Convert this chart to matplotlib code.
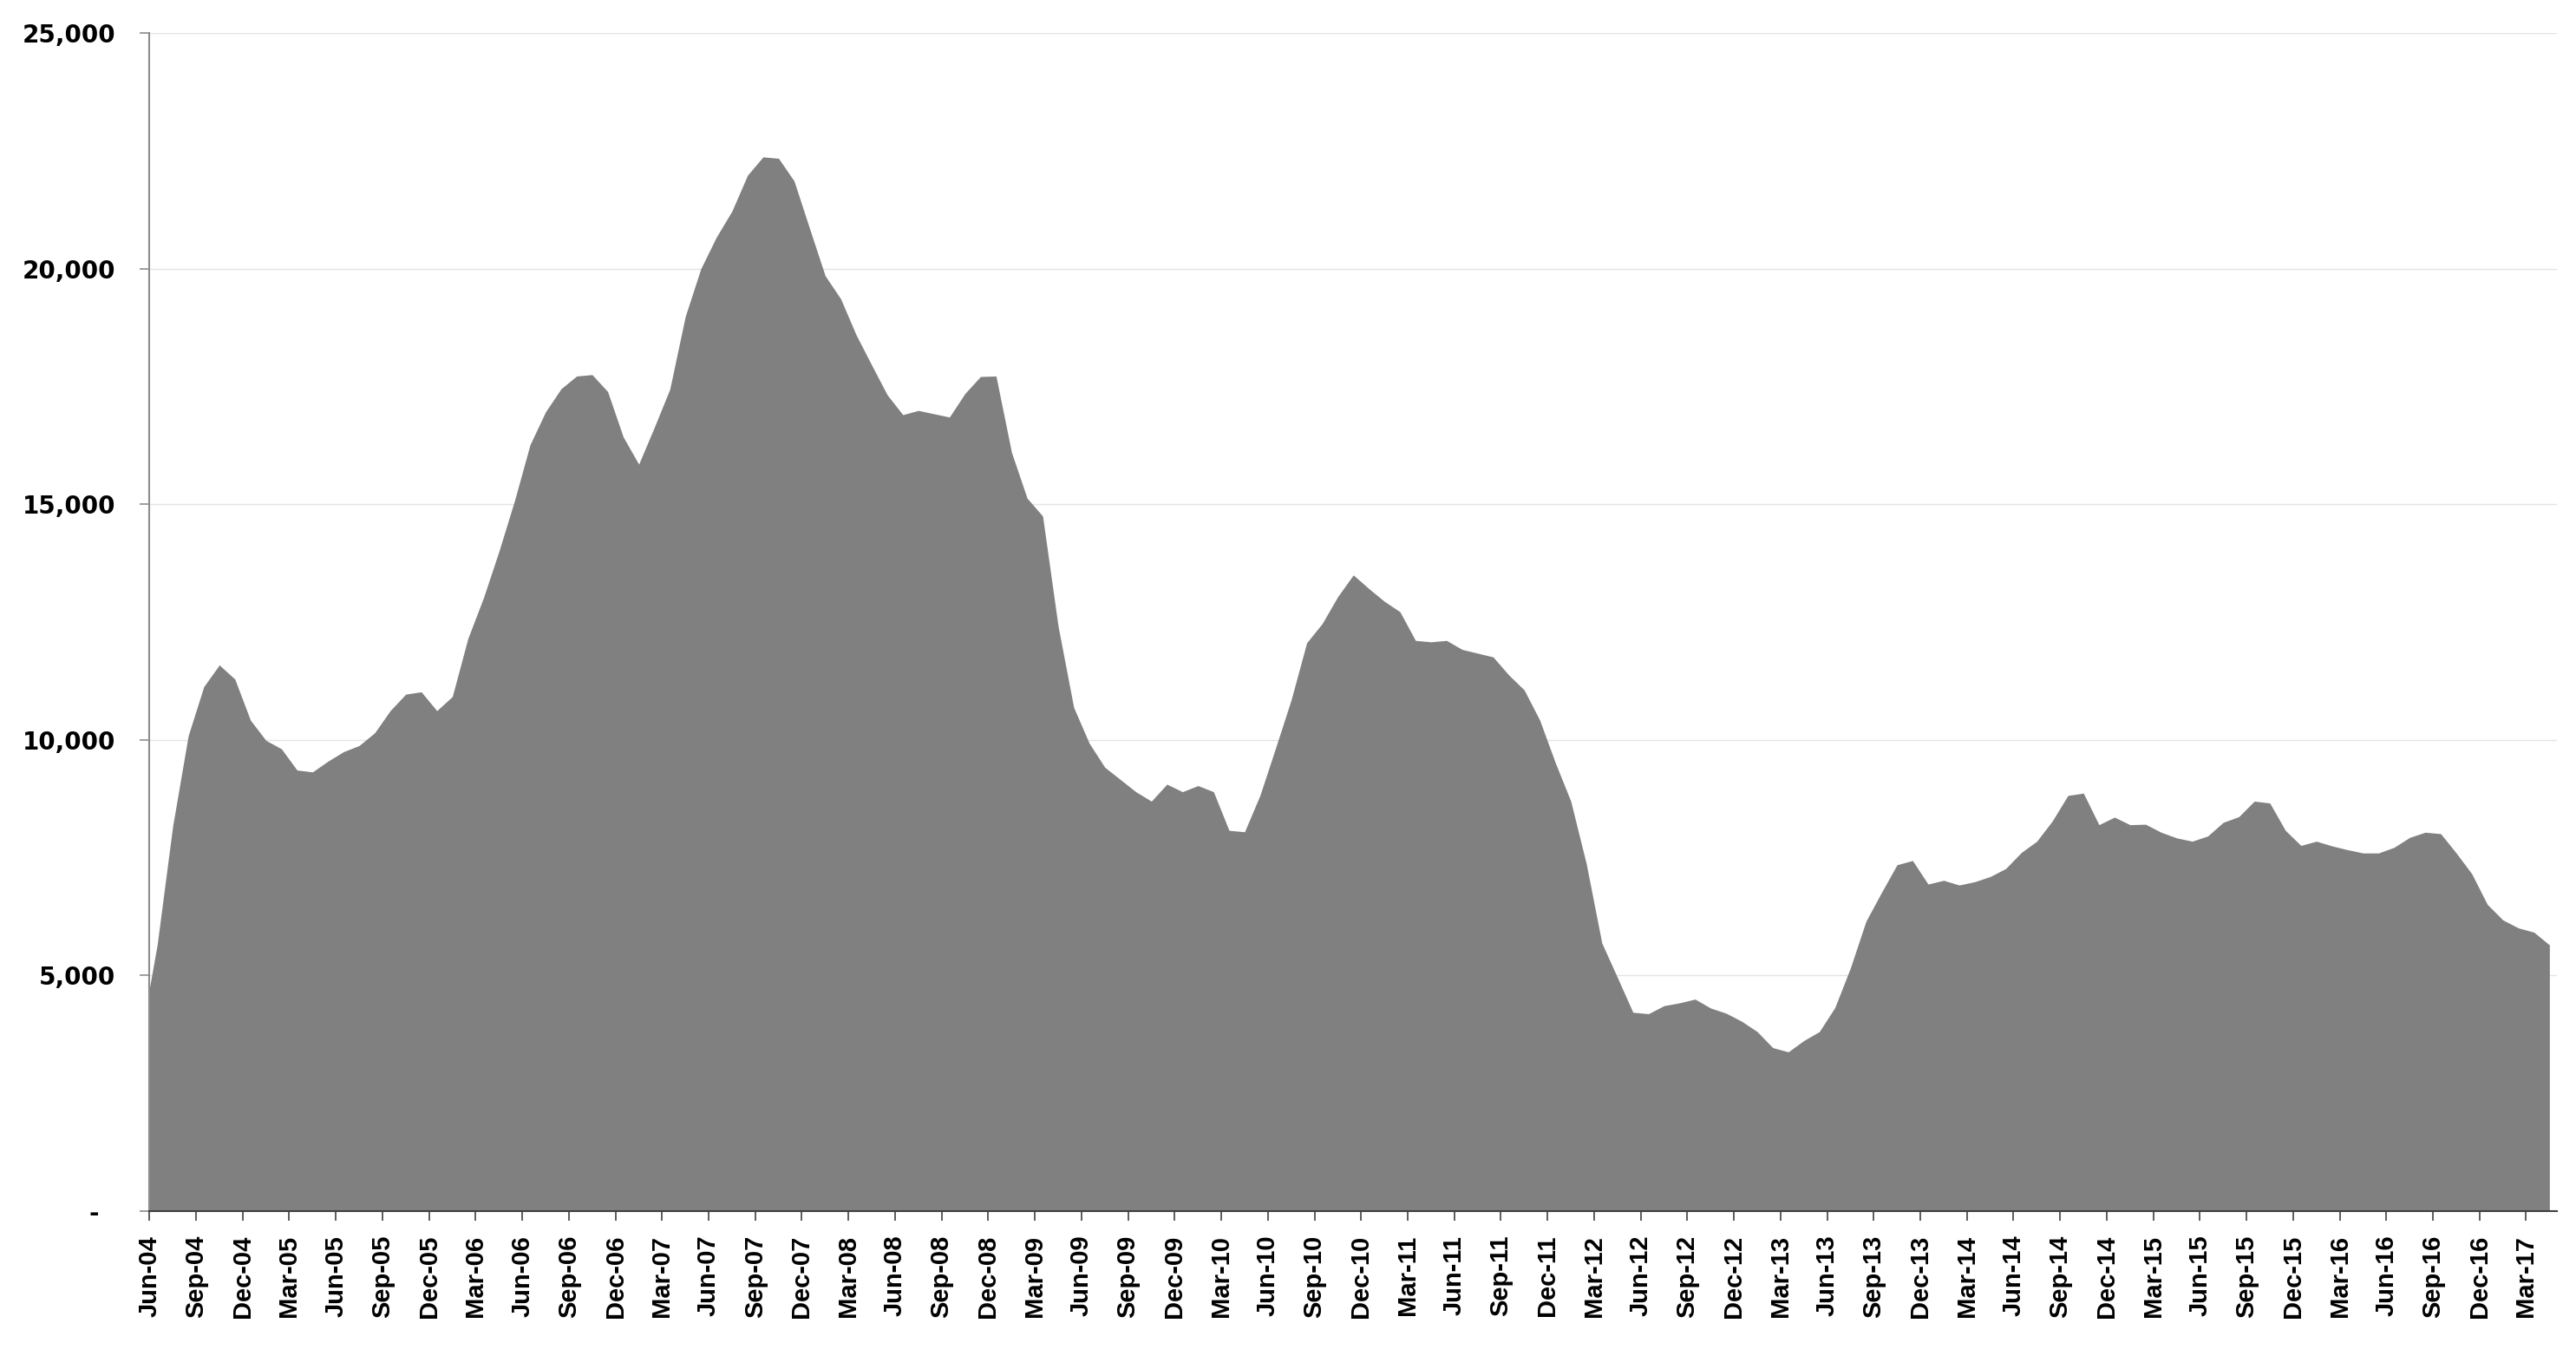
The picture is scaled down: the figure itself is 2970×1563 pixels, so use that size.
import numpy as np
import pandas as pd
import matplotlib
matplotlib.use("Agg")
import matplotlib.pyplot as plt
from matplotlib.ticker import FuncFormatter

# monthly series, May-04 .. Apr-17 (points sit mid-month; axis starts Jun-04)
months = pd.date_range("2004-05-01", periods=156, freq="MS").strftime("%b-%y").tolist()
values = [
    3800, 5650, 8170, 10090, 11130, 11590, 11290, 10420,                  # May-04..Dec-04
    9990, 9810, 9360, 9320, 9550, 9750, 9880, 10150, 10620, 10970, 11020, 10620,   # 2005
    10920, 12150, 13010, 14000, 15070, 16260, 16960, 17450, 17720, 17750, 17390, 16430,  # 2006
    15850, 16630, 17440, 18990, 20000, 20670, 21220, 21980, 22370, 22340, 21860, 20850,  # 2007
    19850, 19360, 18590, 17950, 17320, 16900, 16990, 16920, 16850, 17350, 17710, 17720,  # 2008
    16100, 15130, 14750, 12410, 10690, 9930, 9420, 9160, 8900, 8700, 9060, 8900,        # 2009
    9030, 8900, 8080, 8050, 8830, 9830, 10850, 12060, 12470, 13040, 13500, 13210,       # 2010
    12940, 12720, 12110, 12080, 12110, 11920, 11840, 11760, 11380, 11060, 10420, 9520,  # 2011
    8700, 7370, 5690, 4960, 4220, 4190, 4360, 4420, 4500, 4310, 4200, 4030,             # 2012
    3810, 3470, 3380, 3620, 3810, 4320, 5160, 6150, 6760, 7350, 7440, 6940,             # 2013
    7020, 6920, 6990, 7100, 7270, 7610, 7850, 8280, 8820, 8870, 8200, 8360,             # 2014
    8200, 8210, 8040, 7920, 7850, 7960, 8250, 8370, 8700, 8660, 8080, 7760,             # 2015
    7850, 7750, 7670, 7600, 7600, 7720, 7930, 8040, 8010, 7600, 7160, 6510,             # 2016
    6180, 6010, 5920, 5650,                                                             # Jan-17..Apr-17
]

x = np.arange(len(values)) - 0.5          # month i drawn at its mid-point
tick_idx = list(range(1, len(months), 3))  # Jun-04, Sep-04, ...
tick_pos = [i - 1 for i in tick_idx]
tick_lab = [months[i] for i in tick_idx]

fig = plt.figure(figsize=(29.7, 15.63), dpi=100)
ax = fig.add_axes([0.058, 0.1068, 0.9347, 0.8689])

ax.fill_between(x, values, 0, color="#808080", lw=0, zorder=2)

ax.set_xlim(0, 155)
ax.set_ylim(0, 25000)
ax.set_yticks(range(0, 25001, 5000))
ax.yaxis.set_major_formatter(FuncFormatter(lambda v, p: "-  " if v == 0 else f"{v:,.0f}"))
ax.set_xticks(tick_pos)
ax.set_xticklabels(tick_lab, rotation=90, fontsize=21, fontweight="bold",
                   family=["Liberation Sans Narrow", "Liberation Sans", "DejaVu Sans"])
for t in ax.get_yticklabels():
    t.set_fontsize(20)
    t.set_fontweight("bold")
    t.set_family("DejaVu Sans")

ax.grid(axis="y", color="#e3e3e3", lw=1.0, zorder=0)
ax.set_axisbelow(True)
for s in ("top", "right"):
    ax.spines[s].set_visible(False)
ax.spines["left"].set_color("#8c8c8c")
ax.spines["left"].set_linewidth(1.5)
ax.spines["bottom"].set_color("#404040")
ax.spines["bottom"].set_linewidth(1.5)
ax.spines["bottom"].set_zorder(3)
ax.tick_params(axis="y", length=8, width=1.2, color="#8c8c8c", pad=20)
ax.tick_params(axis="x", length=8, width=1.2, color="#404040", pad=12)

fig.savefig("out.png", dpi=100)
